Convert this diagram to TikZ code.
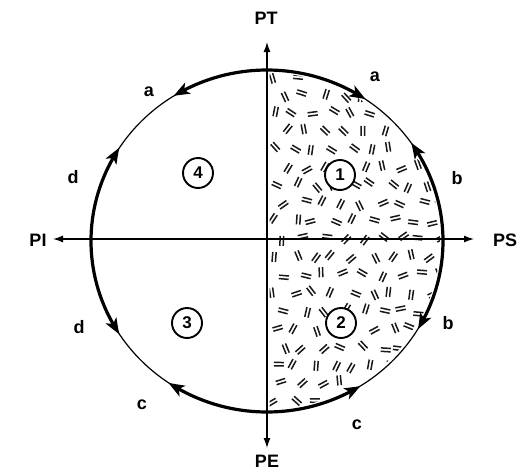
\documentclass[tikz,border=0pt]{standalone}
\usepackage{fontspec}
\setmainfont{Liberation Sans}
\usetikzlibrary{arrows.meta,bending}
\begin{document}
\begin{tikzpicture}[x=1pt,y=-1pt,
  lbl/.style={font=\bfseries\fontsize{18}{18}\selectfont, inner sep=0pt},
  numc/.style={circle, draw, line width=1.9pt, fill=white, minimum size=30pt, inner sep=0pt, font=\bfseries\fontsize{17}{17}\selectfont},
  axisboth/.style={line width=1.3pt, {Latex[length=10pt,width=7pt]}-{Latex[length=10pt,width=7pt]}},
  thinrim/.style={line width=1.2pt},
  thickrim/.style={line width=3.2pt, {Stealth[length=16pt,width=12pt,inset=4pt,bend]}-{Stealth[length=16pt,width=12pt,inset=4pt,bend]}},
  dashpair/.style={line width=1.5pt, black!90}
]
\useasboundingbox (0,0) rectangle (522,474);
\coordinate (C) at (267,241);
\coordinate (PTe) at (267,42);
\coordinate (PEe) at (267,448);
\coordinate (PIe) at (53,239);
\coordinate (PSe) at (474,239);

% hatching of the right half
\begin{scope}
  \clip (269.5,60) rectangle (450,420);
  \clip (C) ellipse [x radius=173pt, y radius=168pt];
  \pgfmathsetseed{12}
  \foreach \r in {0,...,18} {
    \foreach \c in {0,...,9} {
      \pgfmathsetmacro\xx{275+\c*19.5+mod(\r,2)*9.5+4*rand}
      \pgfmathsetmacro\yy{77+\r*18+3*rand}
      \pgfmathsetmacro\aa{180*rnd}
      \draw[dashpair, shift={(\xx,\yy)}, rotate=\aa] (-5,-1.7) -- (5,-1.7) (-5,1.7) -- (5,1.7);
    }
  }
\end{scope}

% rim
\draw[thinrim] (C) ellipse [x radius=176pt, y radius=171pt];
\coordinate (T0) at ([shift={(56:176pt and 171pt)}]C);
\coordinate (R0) at ([shift={(-31:176pt and 171pt)}]C);
\coordinate (B0) at ([shift={(-124:176pt and 171pt)}]C);
\coordinate (L0) at ([shift={(147:176pt and 171pt)}]C);
\draw[thickrim] (T0) arc[start angle=56, end angle=122, x radius=176pt, y radius=171pt];
\draw[thickrim] (R0) arc[start angle=-31, end angle=35, x radius=176pt, y radius=171pt];
\draw[thickrim] (B0) arc[start angle=-124, end angle=-58, x radius=176pt, y radius=171pt];
\draw[thickrim] (L0) arc[start angle=147, end angle=213, x radius=176pt, y radius=171pt];

% axes
\draw[axisboth] (PEe) -- (PTe);
\draw[axisboth] (PIe) -- (PSe);

\node[lbl] (PT) at (266,18) {PT};
\node[lbl] (PE) at (267,461) {PE};
\node[lbl] (PI) at (38,240) {PI};
\node[lbl] (PS) at (505,240) {PS};

\node[lbl] (a1) at (149,92) {a};
\node[lbl] (a2) at (375,77) {a};
\node[lbl] (b1) at (457,178) {b};
\node[lbl] (b2) at (448,323) {b};
\node[lbl] (c1) at (357,425) {c};
\node[lbl] (c2) at (142,405) {c};
\node[lbl] (d1) at (73,177) {d};
\node[lbl] (d2) at (79,327) {d};

\node[numc] (n4) at (198,173) {4};
\node[numc] (n1) at (340,175) {1};
\node[numc] (n3) at (187,323) {3};
\node[numc] (n2) at (341,323) {2};
\end{tikzpicture}
\end{document}
